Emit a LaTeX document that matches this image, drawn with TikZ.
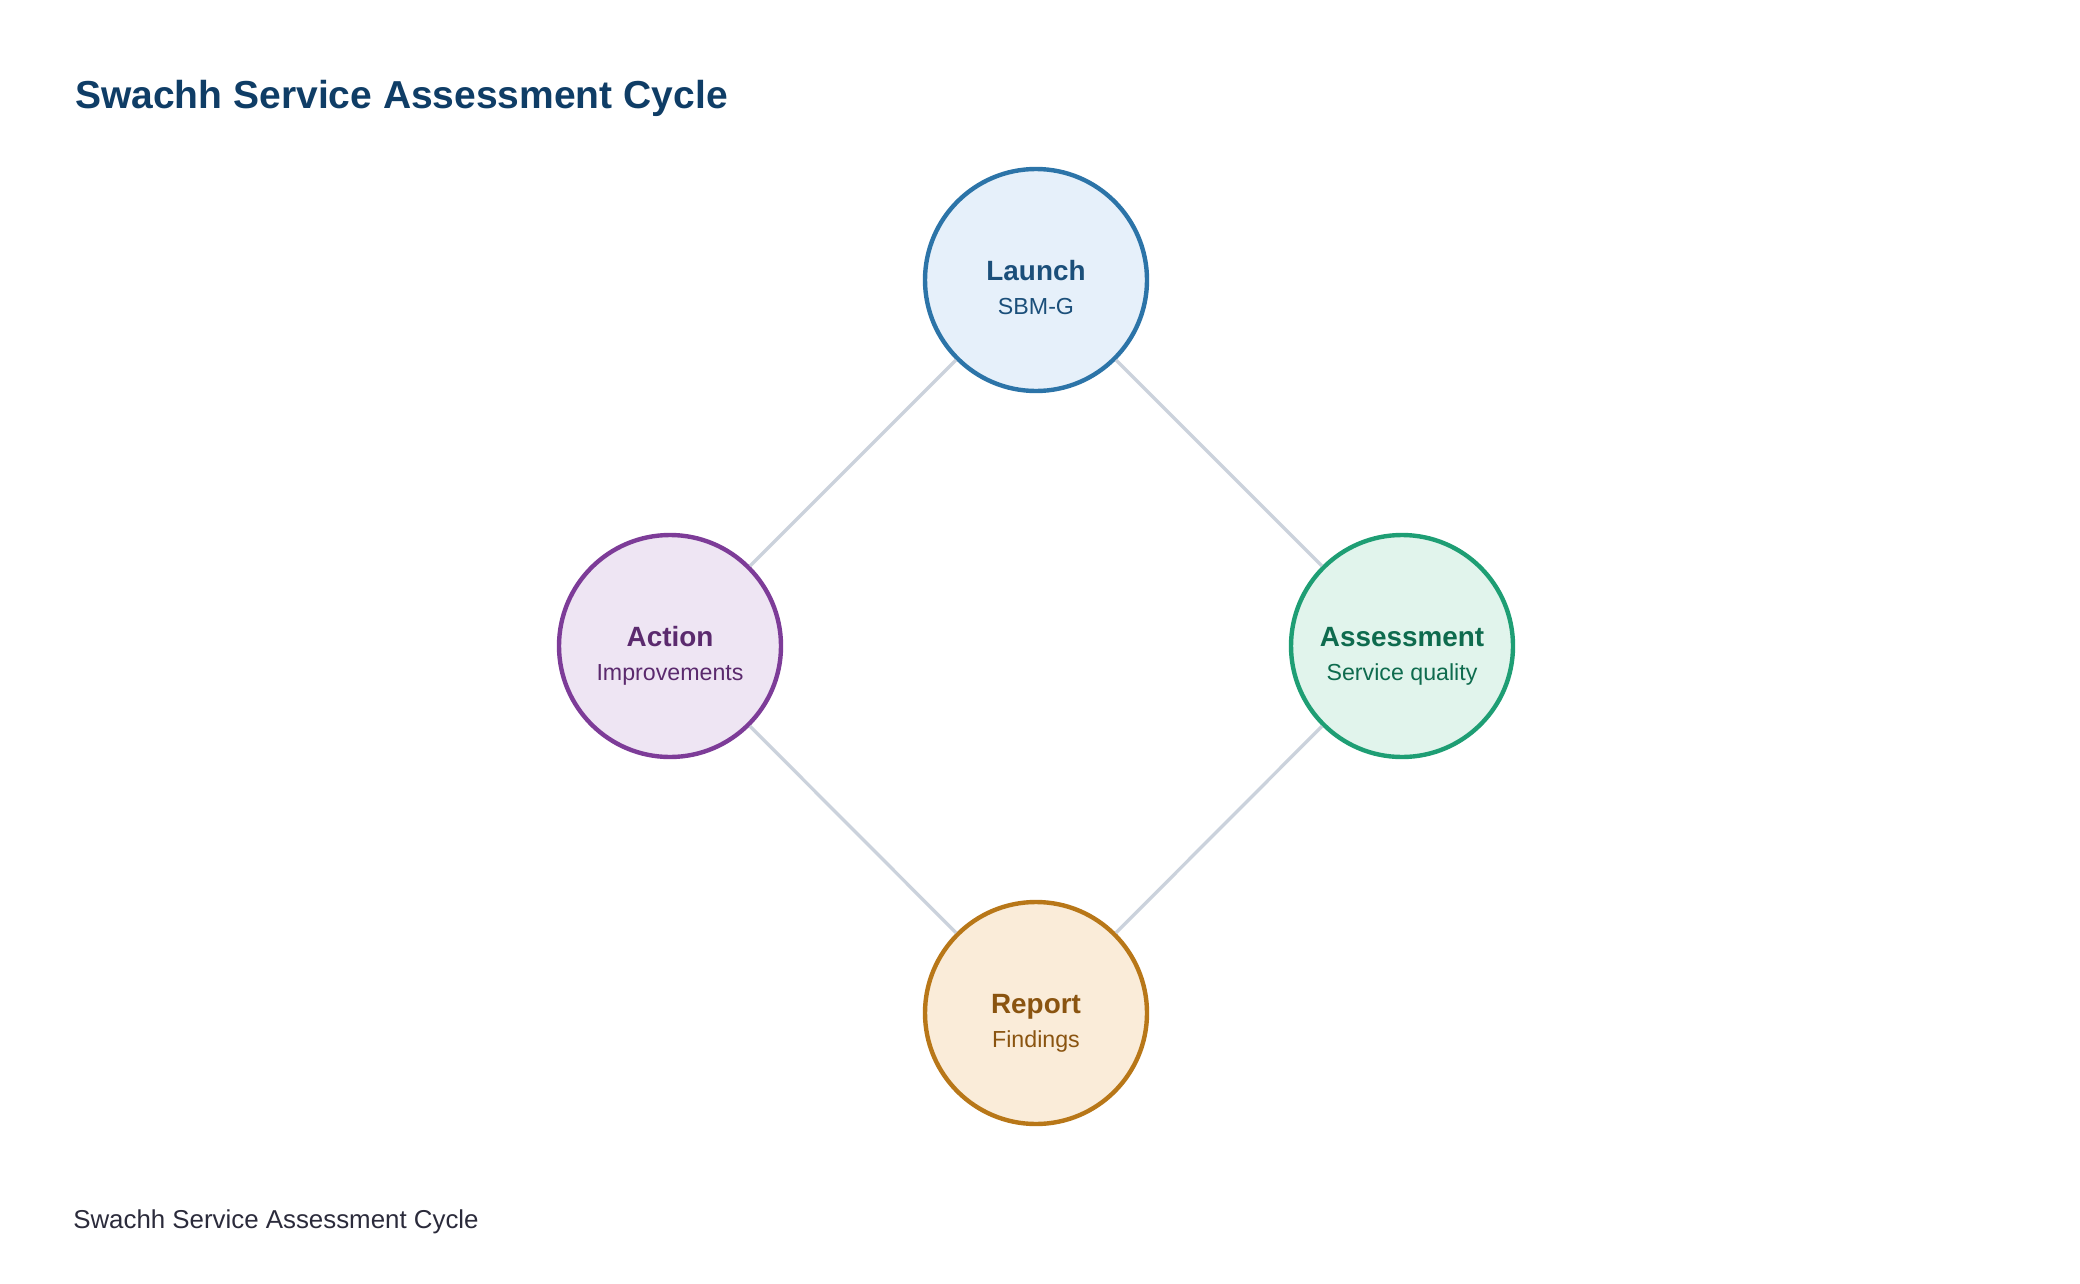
\documentclass[tikz,border=0pt]{standalone}
\usepackage{fontspec}
\setmainfont{Liberation Sans}
\usetikzlibrary{positioning}
\definecolor{titlec}{HTML}{0F3D66}
\definecolor{footc}{HTML}{2B2B3B}
\definecolor{linkc}{HTML}{CBD2DC}
\definecolor{bluS}{HTML}{2C74A8}\definecolor{bluF}{HTML}{E6F0FA}\definecolor{bluT}{HTML}{1B4F7A}
\definecolor{purS}{HTML}{7D3C98}\definecolor{purF}{HTML}{EEE5F3}\definecolor{purT}{HTML}{5B2A6E}
\definecolor{grnS}{HTML}{1E9E74}\definecolor{grnF}{HTML}{E1F4EC}\definecolor{grnT}{HTML}{0E6B4E}
\definecolor{orgS}{HTML}{B87718}\definecolor{orgF}{HTML}{FAECD9}\definecolor{orgT}{HTML}{8A5410}
\tikzset{
  stage/.style={circle, draw=#1S, fill=#1F, line width=3.3pt, minimum size=166.5pt, inner sep=0pt},
  headtxt/.style={font=\fontsize{20.9pt}{24pt}\selectfont\bfseries, text=#1T, anchor=base, inner sep=0pt},
  subtxt/.style={font=\fontsize{17.4pt}{20pt}\selectfont, text=#1T, anchor=base, inner sep=0pt},
  link/.style={draw=linkc, line width=2.5pt}
}
\begin{document}
\begin{tikzpicture}[x=0.75pt,y=-0.75pt]
\useasboundingbox (0,0) rectangle (2080,1284);
\node[anchor=base west, inner sep=0pt, text=titlec, font=\fontsize{29.25pt}{34pt}\selectfont\bfseries] (title) at (75,109) {Swachh Service Assessment Cycle};
\node[anchor=base west, inner sep=0pt, text=footc, font=\fontsize{19.4pt}{24pt}\selectfont] (foot) at (73,1228) {Swachh Service Assessment Cycle};

\node[stage=blu] (launch) at (1036,280) {};
\node[stage=pur] (action) at (670,646) {};
\node[stage=grn] (assess) at (1402,646) {};
\node[stage=org] (report) at (1036,1013) {};

\draw[link] (launch) -- (action);
\draw[link] (launch) -- (assess);
\draw[link] (action) -- (report);
\draw[link] (assess) -- (report);

\node[headtxt=blu] (launchH) at (1036,280) {Launch};
\node[subtxt=blu] (launchS) at (1036,314) {SBM-G};
\node[headtxt=pur] (actionH) at (670,646) {Action};
\node[subtxt=pur] (actionS) at (670,680) {Improvements};
\node[headtxt=grn] (assessH) at (1402,646) {Assessment};
\node[subtxt=grn] (assessS) at (1402,680) {Service quality};
\node[headtxt=org] (reportH) at (1036,1013) {Report};
\node[subtxt=org] (reportS) at (1036,1047) {Findings};
\end{tikzpicture}
\end{document}
